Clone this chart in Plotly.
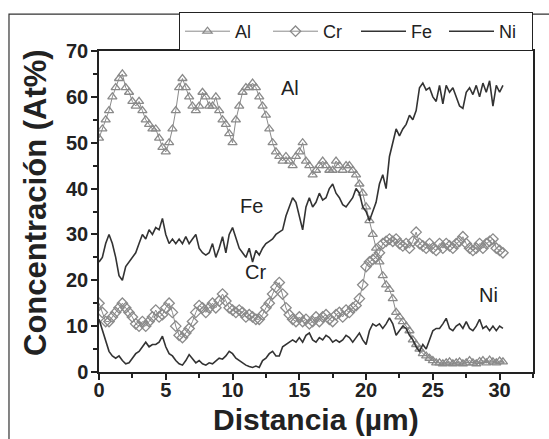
import numpy as np
import plotly.graph_objects as go

# Line-scan composition profile, sampled every 0.25 µm
paso = 0.25

al = [51, 53, 55, 57, 60, 62, 64, 65, 62, 61, 59, 58, 59, 57, 55, 54, 53, 53, 51, 49,
      48, 50, 53, 57, 62, 64, 62, 60, 58, 57, 58, 61, 60, 58, 58, 60, 57, 55, 54, 52,
      50, 55, 58, 61, 62, 62, 63, 62, 60, 58, 56, 53, 50, 48, 47, 46, 47, 46, 45, 47,
      48, 50, 46, 45, 43, 44, 45, 46, 45, 44, 44, 46, 45, 44, 45, 45, 44, 43, 41, 39,
      36, 33, 30, 27, 24, 21, 19, 18, 16, 13, 12, 11, 10, 9, 7, 6, 5, 4, 3.5, 3,
      2.5, 2, 2, 1.8, 2, 2.2, 1.8, 2, 2.2, 1.8, 2, 2.5, 2, 1.8, 2.3, 2.5, 2, 2.6, 2.2, 2,
      2.4, 2.2]

cr = [15, 13, 11, 11, 12, 13, 14, 15, 14, 13, 12, 10.5, 10, 11, 10, 11, 12, 13.5, 12, 12.5,
      14, 15, 13, 10, 8, 7.5, 8.5, 9.5, 11, 13, 14.5, 14, 13, 14, 15, 14, 15.5, 17, 15.5, 14,
      13.5, 13, 13.5, 13, 12, 12.5, 12, 11.5, 11.5, 12.5, 14, 15, 17, 18.5, 19.5, 17, 14, 12.5, 11.5, 11,
      12, 11, 11.5, 10.5, 11, 12, 11, 12, 12.5, 11.5, 11, 12.5, 13, 12, 13.5, 13, 14, 14.5, 16, 19,
      23, 24, 24.5, 25, 26, 28, 28.5, 29, 28.5, 29, 28, 27.5, 28, 27, 28.5, 30.5, 28, 27.5, 27, 28,
      27, 26.5, 28, 27, 28, 27.5, 27, 28, 28.5, 29.5, 28, 27, 26.5, 27, 28, 27, 28, 28.5, 29, 27,
      26.5, 26]

fe = [24, 25, 28, 30, 28, 25, 21, 20, 23, 24, 25, 26, 28, 30, 29, 31, 30, 31.5, 31, 33.5,
      30, 28, 29, 28, 29, 28, 29.5, 28, 29, 30, 27, 26, 25.5, 26, 28, 25, 27, 29.5, 26, 30,
      31.5, 29, 27, 26, 25, 27, 24, 26.5, 25.5, 27, 28, 28.5, 29, 30, 30.5, 31, 34, 36, 38, 37,
      34, 31, 36, 38, 36, 37, 39, 37.5, 38, 40, 41, 39, 38, 36.5, 36, 37, 38, 40, 39, 36,
      35, 33, 35, 37, 41, 43, 40, 47, 50, 53, 51.5, 53, 54, 56, 55, 57, 62, 63, 61.5, 62,
      60, 59, 62.5, 58.5, 62.5, 61, 62, 60, 58, 57.5, 61, 62, 60.5, 62.5, 60, 63, 61, 63.5, 58, 62.5,
      61, 62.5]

ni = [11.5, 9, 6.5, 4.5, 3.5, 3, 3.5, 2.5, 1.8, 2, 3, 4, 4.5, 5.5, 6.5, 5.5, 6, 6, 6.5, 7.8,
      5.5, 4, 3.5, 2.5, 1.8, 1.5, 2.5, 3.8, 3, 2, 2.5, 1.8, 1.5, 2, 1.8, 2.5, 3, 2.8, 3.5, 4.5,
      4, 3, 2.5, 2, 1.5, 1.2, 1, 1.3, 1, 2.5, 3, 4, 4.5, 3.5, 3.5, 5.5, 6, 6.5, 7, 6.5,
      7.5, 6.5, 8, 8.5, 7, 6.5, 7.5, 7, 8, 7.5, 6.5, 7, 6.5, 7, 8, 7.5, 6.5, 7.5, 8.5, 7,
      6, 9, 10.5, 10, 10.5, 9.5, 10.5, 11.8, 10.5, 8, 9, 10, 9.5, 8, 7, 5.5, 4.5, 6, 5, 7,
      9, 9.5, 9.5, 10.5, 11.7, 9.5, 9, 10, 10.5, 9.5, 11, 9.5, 9, 10, 11.5, 9.5, 10, 9, 10, 9,
      10, 9.5]

distancia = np.round(np.arange(len(al)) * paso, 2)

x_ticks = [0, 5, 10, 15, 20, 25, 30]
y_ticks = [0, 10, 20, 30, 40, 50, 60, 70]

# Element labels placed next to their curves
etiquetas = [("Al", 14.3, 62.0), ("Fe", 11.45, 36.2), ("Cr", 11.7, 21.7), ("Ni", 29.2, 16.9)]

FONT = "Liberation Sans, Arial, sans-serif"
GRIS = "#8a8a8a"
OSCURO = "#333333"

fig = go.Figure()
fig.add_trace(go.Scatter(
    x=distancia, y=al, name="Al", mode="lines+markers",
    line=dict(color=GRIS, width=1),
    marker=dict(symbol="triangle-up-open", size=8, color=GRIS, line=dict(width=1.3, color=GRIS)),
))
fig.add_trace(go.Scatter(
    x=distancia, y=cr, name="Cr", mode="lines+markers",
    line=dict(color=GRIS, width=1),
    marker=dict(symbol="diamond-open", size=8, color=GRIS, line=dict(width=1.3, color=GRIS)),
))
fig.add_trace(go.Scatter(
    x=distancia, y=fe, name="Fe", mode="lines",
    line=dict(color=OSCURO, width=1.6),
))
fig.add_trace(go.Scatter(
    x=distancia, y=ni, name="Ni", mode="lines",
    line=dict(color=OSCURO, width=1.6),
))

for txt, xv, yv in etiquetas:
    fig.add_annotation(x=xv, y=yv, text=txt, showarrow=False,
                       font=dict(family=FONT, size=20, color="#222222"))

# Axis titles
fig.add_annotation(xref="paper", yref="paper", x=0.5, y=-0.148, yanchor="middle",
                   text="<b>Distancia (µm)</b>", showarrow=False,
                   font=dict(family=FONT, size=30, color="#222222"))
fig.add_annotation(xref="paper", yref="paper", x=-0.148, y=0.529, xanchor="center",
                   textangle=-90, text="<b>Concentración (At%)</b>", showarrow=False,
                   font=dict(family=FONT, size=31, color="#222222"))

# Outer frame around the whole figure
fig.add_shape(type="rect", xref="paper", yref="paper",
              x0=-0.2074, x1=1.2, y0=-0.4, y1=1.1146,
              line=dict(color="#333333", width=1.2), layer="below")

axis_common = dict(
    showline=True, linecolor="#222222", linewidth=1.5, mirror=True,
    ticks="outside", ticklen=6, tickwidth=1.5, tickcolor="#222222",
    showgrid=False, zeroline=False,
    tickfont=dict(family=FONT, size=20, color="#222222", weight="bold"),
)

fig.update_xaxes(range=[0, 32.5], tickvals=x_ticks, ticklabelstandoff=-7,
                 minor=dict(dtick=2.5, ticks="outside", ticklen=4, tickwidth=1.5, tickcolor="#222222"),
                 **axis_common)
fig.update_yaxes(range=[0, 70], tickvals=y_ticks, ticklabelstandoff=-1,
                 minor=dict(dtick=5, ticks="outside", ticklen=4, tickwidth=1.5, tickcolor="#222222"),
                 **axis_common)

fig.update_layout(
    width=549, height=439,
    margin=dict(l=99, r=16, t=49, b=67),
    paper_bgcolor="white", plot_bgcolor="white",
    font=dict(family=FONT, color="#222222"),
    showlegend=True,
    legend=dict(
        orientation="h", x=1, xanchor="right", y=1, yanchor="bottom",
        bordercolor="#222222", borderwidth=1, bgcolor="white",
        font=dict(family=FONT, size=18, color="#222222"),
        itemwidth=45, tracegroupgap=0,
        entrywidth=28, entrywidthmode="pixels",
    ),
)

fig.write_html("out.html")
